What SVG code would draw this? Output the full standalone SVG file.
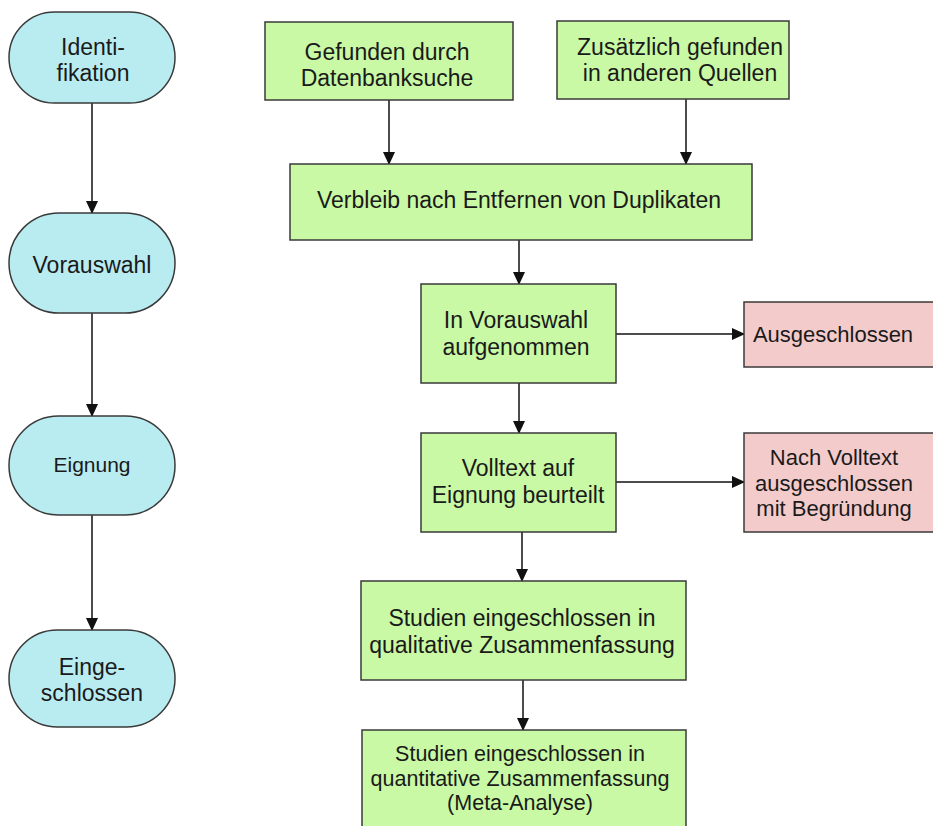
<svg xmlns="http://www.w3.org/2000/svg" width="933" height="826" viewBox="0 0 933 826">
<style>
.pill{fill:#b9ecf1;stroke:#3a3a3a;stroke-width:1.5}
.g{fill:#c9f9a4;stroke:#3a3a3a;stroke-width:1.5}
.p{fill:#f4cbcb;stroke:#3a3a3a;stroke-width:1.5}
text{font-family:"Liberation Sans",Arial,sans-serif;font-size:23px;fill:#1a1a1a;text-anchor:middle}
.c line{stroke:#111;stroke-width:1.5;marker-end:url(#ah)}
</style>
<defs>
<marker id="ah" markerUnits="userSpaceOnUse" markerWidth="12" markerHeight="16" viewBox="0 0 12 16" refX="12" refY="8" orient="auto">
<path d="M0,2 L13,8 L0,14 Z" fill="#111"/>
</marker>
</defs>
<rect width="933" height="826" fill="#fff"/>
<g class="c" id="connectors">
<line x1="92" y1="103" x2="92" y2="213"/>
<line x1="92" y1="313" x2="92" y2="416"/>
<line x1="92" y1="515" x2="92" y2="630"/>
<line x1="389" y1="100" x2="389" y2="164"/>
<line x1="686" y1="99" x2="686" y2="164"/>
<line x1="519" y1="240" x2="519" y2="284"/>
<line x1="519" y1="383" x2="519" y2="433"/>
<line x1="616" y1="334" x2="744" y2="334"/>
<line x1="616" y1="482" x2="744" y2="482"/>
<line x1="522" y1="532" x2="522" y2="581"/>
<line x1="523" y1="680" x2="523" y2="730"/>
</g>
<g id="identifikation">
<rect class="pill" x="9" y="12" width="166" height="91" rx="45.5"/>
<text x="93" y="55">Identi-</text>
<text x="93" y="81">fikation</text>
</g>
<g id="vorauswahl">
<rect class="pill" x="9" y="213" width="166" height="100" rx="50"/>
<text x="92" y="273">Vorauswahl</text>
</g>
<g id="eignung">
<rect class="pill" x="9" y="416" width="166" height="99" rx="49.5"/>
<text x="92" y="472" style="font-size:21px">Eignung</text>
</g>
<g id="eingeschlossen">
<rect class="pill" x="9" y="630" width="166" height="97" rx="48.5"/>
<text x="92" y="675">Einge-</text>
<text x="92" y="701">schlossen</text>
</g>
<g id="datenbanksuche">
<rect class="g" x="265" y="22" width="248" height="78"/>
<text x="387" y="60">Gefunden durch</text>
<text x="387" y="86">Datenbanksuche</text>
</g>
<g id="andere-quellen">
<rect class="g" x="557" y="21" width="232" height="78"/>
<text x="680" y="55">Zusätzlich gefunden</text>
<text x="680" y="81">in anderen Quellen</text>
</g>
<g id="duplikate">
<rect class="g" x="290" y="164" width="462" height="76"/>
<text x="519" y="208">Verbleib nach Entfernen von Duplikaten</text>
</g>
<g id="in-vorauswahl">
<rect class="g" x="421" y="284" width="195" height="99"/>
<text x="516" y="328">In Vorauswahl</text>
<text x="516" y="355">aufgenommen</text>
</g>
<g id="ausgeschlossen">
<rect class="p" x="744" y="302" width="192" height="65"/>
<text x="833" y="342" style="font-size:22px">Ausgeschlossen</text>
</g>
<g id="volltext">
<rect class="g" x="421" y="433" width="195" height="99"/>
<text x="518" y="476">Volltext auf</text>
<text x="518" y="503">Eignung beurteilt</text>
</g>
<g id="volltext-ausgeschlossen">
<rect class="p" x="744" y="433" width="192" height="99"/>
<text x="834" y="465" style="font-size:22px">Nach Volltext</text>
<text x="834" y="491" style="font-size:22px">ausgeschlossen</text>
<text x="834" y="516" style="font-size:22px">mit Begründung</text>
</g>
<g id="qualitativ">
<rect class="g" x="361" y="581" width="325" height="99"/>
<text x="522" y="626">Studien eingeschlossen in</text>
<text x="522" y="653">qualitative Zusammenfassung</text>
</g>
<g id="quantitativ">
<rect class="g" x="362" y="730" width="324" height="110"/>
<text x="520" y="761" style="font-size:21.5px">Studien eingeschlossen in</text>
<text x="520" y="786" style="font-size:21.5px">quantitative Zusammenfassung</text>
<text x="520" y="810" style="font-size:21.5px">(Meta-Analyse)</text>
</g>
</svg>
